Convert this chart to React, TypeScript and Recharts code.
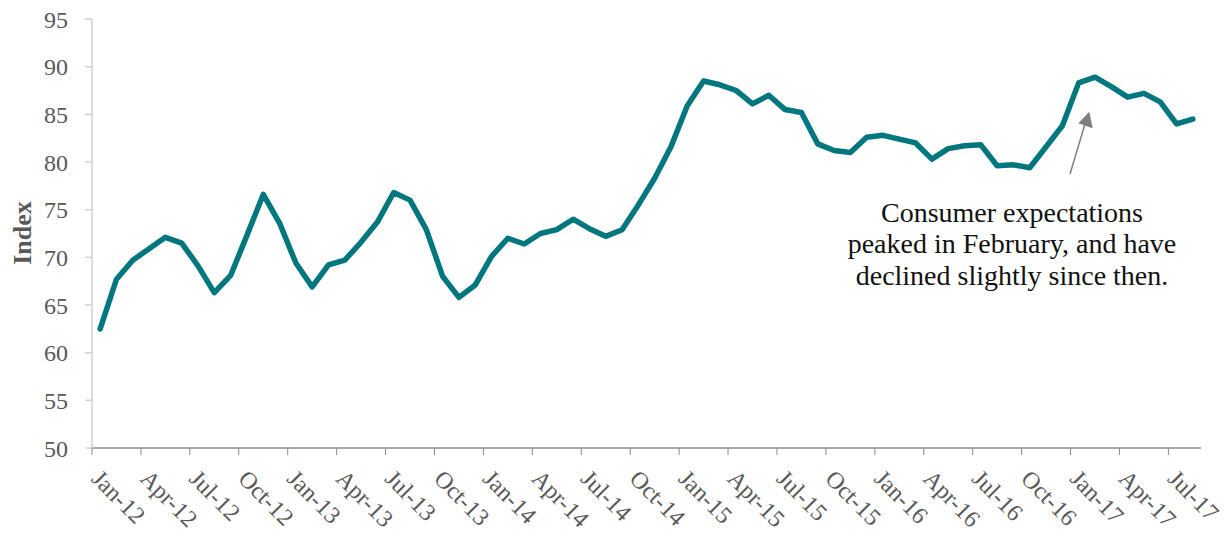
import { Line, LineChart, XAxis, YAxis } from "recharts";

const monthNames = ["Jan", "Feb", "Mar", "Apr", "May", "Jun", "Jul", "Aug", "Sep", "Oct", "Nov", "Dec"];
const years = ["12", "13", "14", "15", "16", "17"];

const indexValues = [
  62.5, 67.7, 69.7, 70.9, 72.1, 71.5, 69.1, 66.3, 68.1, 72.3, 76.6, 73.6,
  69.4, 66.9, 69.2, 69.7, 71.6, 73.7, 76.8, 76.0, 72.9, 68.0, 65.8, 67.1,
  70.1, 72.0, 71.4, 72.5, 72.9, 74.0, 73.0, 72.2, 72.9, 75.5, 78.3, 81.6,
  85.9, 88.5, 88.1, 87.5, 86.1, 87.0, 85.5, 85.2, 81.9, 81.2, 81.0, 82.6,
  82.8, 82.4, 82.0, 80.3, 81.4, 81.7, 81.8, 79.6, 79.7, 79.4, 81.6, 83.8,
  88.3, 88.9, 87.9, 86.8, 87.2, 86.3, 84.0, 84.5,
];

const yTicks = [50, 55, 60, 65, 70, 75, 80, 85, 90, 95];

const noteLines = [
  "Consumer expectations",
  "peaked in February, and have",
  "declined slightly since then.",
];

const months = years.flatMap((yr) => monthNames.map((m) => `${m}-${yr}`)).slice(0, indexValues.length);
const data = months.map((month, i) => ({ month, value: indexValues[i] }));

const W = 1224;
const H = 537;
const LEFT = 92;
const RIGHT = 23;
const STEP = (W - LEFT - RIGHT) / data.length;
const FONT = "'Liberation Serif', 'Times New Roman', serif";

function MonthTick({ x, y, payload }: any) {
  const tx = x - 10;
  const ty = y + 32;
  return (
    <g>
      <line x1={x - STEP / 2} x2={x - STEP / 2} y1={y} y2={y + 7} stroke="#8c8c8c" strokeWidth={1} />
      <text
        x={tx}
        y={ty}
        transform={`rotate(45, ${tx}, ${ty})`}
        textAnchor="start"
        fontSize={24}
        fontFamily={FONT}
        fill="#595959"
      >
        {payload.value}
      </text>
    </g>
  );
}

export default function App() {
  return (
    <div style={{ position: "absolute", left: 0, top: 0, width: W, height: H, background: "#fff" }}>
      <LineChart width={W} height={H} data={data} margin={{ top: 19, right: RIGHT, bottom: 0, left: 0 }}>
        <XAxis
          dataKey="month"
          scale="band"
          interval={2}
          height={89}
          tickSize={0}
          tickMargin={0}
          tickLine={false}
          axisLine={{ stroke: "#8c8c8c", strokeWidth: 1.5 }}
          tick={<MonthTick />}
        />
        <YAxis
          domain={[50, 95]}
          ticks={yTicks}
          width={LEFT}
          tickSize={7}
          tickMargin={17}
          axisLine={{ stroke: "#d0d0d0", strokeWidth: 1.5 }}
          tickLine={{ stroke: "#d0d0d0", strokeWidth: 1.5 }}
          tick={{ fontSize: 24, fontFamily: FONT, fill: "#595959" }}
        />
        <Line
          type="linear"
          dataKey="value"
          stroke="#00767f"
          strokeWidth={5.5}
          strokeLinejoin="round"
          strokeLinecap="round"
          dot={false}
          activeDot={false}
          isAnimationActive={false}
        />
      </LineChart>
      <svg
        width={W}
        height={H}
        style={{ position: "absolute", left: 0, top: 0, pointerEvents: "none" }}
      >
        <text
          x={30.5}
          y={233}
          transform="rotate(-90, 30.5, 233)"
          textAnchor="middle"
          fontSize={26}
          fontWeight="bold"
          fontFamily={FONT}
          fill="#595959"
        >
          Index
        </text>
        <line x1={1070} y1={174} x2={1085} y2={124} stroke="#7f7f7f" strokeWidth={1.5} />
        <polygon points="1089.3,111.7 1078.3,123.3 1092.7,128.3" fill="#7f7f7f" />
        {noteLines.map((line, i) => (
          <text
            key={line}
            x={1012}
            y={221.7 + i * 31.7}
            textAnchor="middle"
            fontSize={28}
            fontFamily={FONT}
            fill="#111"
          >
            {line}
          </text>
        ))}
      </svg>
    </div>
  );
}
